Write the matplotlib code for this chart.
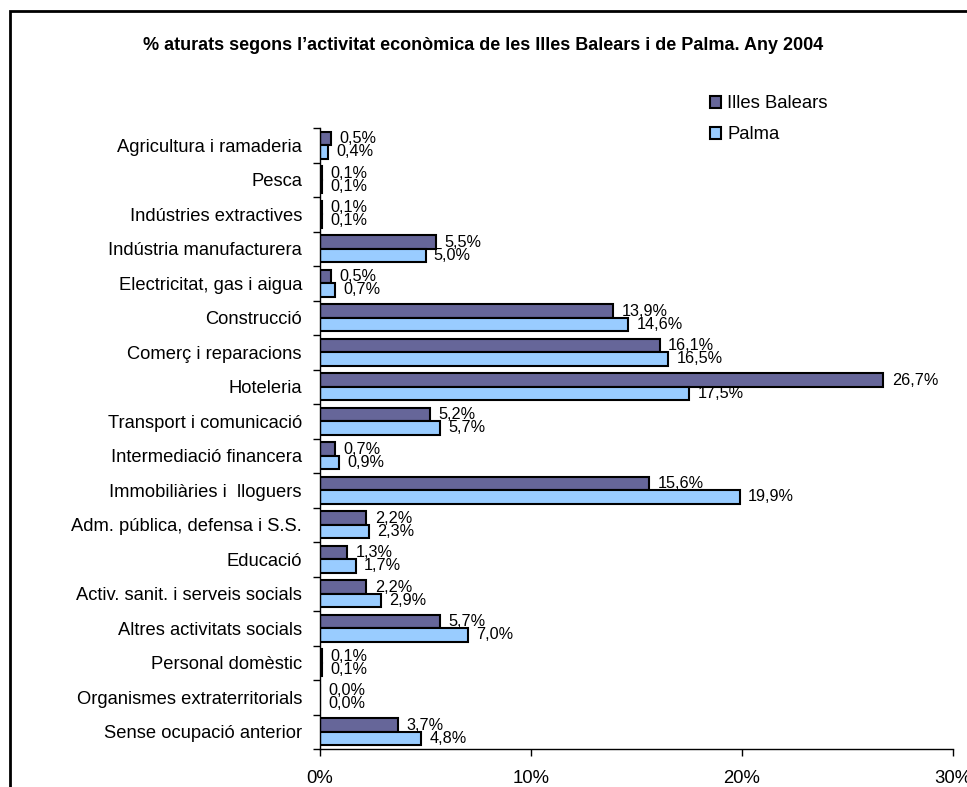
import numpy as np
import matplotlib
matplotlib.use("Agg")
import matplotlib.pyplot as plt
from matplotlib.patches import Rectangle

plt.rcParams['font.family'] = ['Liberation Sans', 'DejaVu Sans']

categories = [
    "Agricultura i ramaderia", "Pesca", "Indústries extractives",
    "Indústria manufacturera", "Electricitat, gas i aigua", "Construcció",
    "Comerç i reparacions", "Hoteleria", "Transport i comunicació",
    "Intermediació financera", "Immobiliàries i  lloguers",
    "Adm. pública, defensa i S.S.", "Educació",
    "Activ. sanit. i serveis socials", "Altres activitats socials",
    "Personal domèstic", "Organismes extraterritorials",
    "Sense ocupació anterior",
]
illes_balears = [0.5, 0.1, 0.1, 5.5, 0.5, 13.9, 16.1, 26.7, 5.2, 0.7,
                 15.6, 2.2, 1.3, 2.2, 5.7, 0.1, 0.0, 3.7]
palma = [0.4, 0.1, 0.1, 5.0, 0.7, 14.6, 16.5, 17.5, 5.7, 0.9,
         19.9, 2.3, 1.7, 2.9, 7.0, 0.1, 0.0, 4.8]
x_ticks = [0, 10, 20, 30]

title = "% aturats segons l’activitat econòmica de les Illes Balears i de Palma. Any 2004"
dark = "#666699"
light = "#99CCFF"

W, H = 967, 787
fig = plt.figure(figsize=(W / 100, H / 100), dpi=100)
ax = fig.add_axes([320 / W, 1 - 749 / H, 633 / W, (749 - 128) / H])

n = len(categories)
y = np.arange(n)
h = 0.39
ax.barh(y - h / 2, illes_balears, height=h, color=dark, edgecolor="black",
        linewidth=1.5, label="Illes Balears")
ax.barh(y + h / 2, palma, height=h, color=light, edgecolor="black",
        linewidth=1.5, label="Palma")

def fmt(v):
    return f"{v:.1f}".replace(".", ",") + "%"

# value labels next to each bar
for i in range(n):
    ax.annotate(fmt(illes_balears[i]), (illes_balears[i], y[i] - h / 2),
                xytext=(6, 0), textcoords="offset points", va="center",
                ha="left", fontsize=11.7)
    ax.annotate(fmt(palma[i]), (palma[i], y[i] + h / 2),
                xytext=(6, 0), textcoords="offset points", va="center",
                ha="left", fontsize=11.7)

ax.set_ylim(n - 0.5, -0.5)
ax.set_xlim(0, 30)
ax.set_yticks(y)
ax.set_yticklabels(categories, fontsize=13.2)
ax.tick_params(axis="y", which="major", length=0, pad=13)
ax.set_yticks(np.arange(-0.5, n, 1), minor=True)
ax.tick_params(axis="y", which="minor", length=5, width=1, direction="out")
ax.set_xticks(x_ticks)
ax.set_xticklabels([f"{t}%" for t in x_ticks], fontsize=13.3)
ax.tick_params(axis="x", length=5, width=1, direction="out", pad=10)

for s in ["top", "right"]:
    ax.spines[s].set_visible(False)
for s in ["left", "bottom"]:
    ax.spines[s].set_linewidth(1)

fig.text(483 / W, 1 - 45 / H, title, ha="center", va="center",
         fontsize=13, fontweight="bold")

fig.legend(loc="upper left", bbox_to_anchor=(703 / W, 1 - 88 / H),
           frameon=False, fontsize=13.3, handlelength=0.6, handleheight=0.6,
           handletextpad=0.3, labelspacing=0.75, borderaxespad=0)

# outer frame, cut off at the right and bottom like the source
fig.patches.append(Rectangle((10 / W, -0.1), 1.2, (H - 11) / H + 0.1,
                             transform=fig.transFigure, fill=False,
                             edgecolor="black", linewidth=2, clip_on=False))

fig.savefig("out.png", dpi=100)
